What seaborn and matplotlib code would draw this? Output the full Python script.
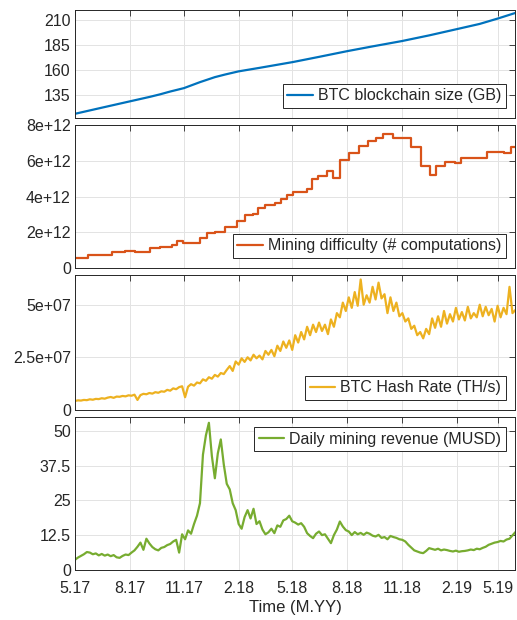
import numpy as np
import pandas as pd
import matplotlib
matplotlib.use("Agg")
import matplotlib.pyplot as plt
import seaborn as sns

# x axis: days since 1 May 2017
tick_days = [0, 92, 184, 276, 365, 457, 549, 641, 711]
tick_labels = ['5.17', '8.17', '11.17', '2.18', '5.18', '8.18', '11.18', '2.19', '5.19']
x_end = 740

# --- BTC blockchain size (GB) ---
size_days = [0, 42, 91, 126, 143, 160, 183, 210, 235, 252, 275, 310, 366, 410,
             458, 500, 549, 595, 641, 680, 711, 740]
size_gb = [116, 121.7, 128.3, 133, 135.5, 138.3, 141.7, 147.7, 152.7, 155.3, 158.5,
           162, 167.8, 173, 178.8, 183.5, 188.8, 194.5, 200.7, 206, 211.5, 217]

# --- Mining difficulty (x 1e12), value holds from the given day on ---
diff_days = [0, 22, 42, 62, 84, 101, 126, 143, 163, 171, 181, 210, 221, 235, 252,
             272, 285, 299, 307, 320, 336, 346, 356, 366, 389, 398, 408, 424, 433,
             446, 461, 477, 492, 505, 518, 534, 564, 581, 596, 607, 621, 638, 649,
             693, 721, 732]
diff_vals = [0.58, 0.70, 0.72, 0.87, 0.95, 0.91, 1.12, 1.18, 1.26, 1.48, 1.38, 1.66,
             1.93, 2.0, 2.3, 2.65, 2.95, 3.03, 3.35, 3.5, 3.64, 3.88, 4.1, 4.28, 4.42,
             5.0, 5.15, 5.45, 5.05, 6.05, 6.45, 6.82, 7.12, 7.28, 7.5, 7.3, 6.78, 5.72,
             5.2, 5.72, 5.96, 5.88, 6.18, 6.48, 6.44, 6.8]

# --- BTC hash rate (x 1e7 TH/s), one value every 5 days ---
hash_vals = [
    0.42, 0.45, 0.44, 0.47, 0.46, 0.50, 0.48, 0.52, 0.51, 0.55,
    0.53, 0.58, 0.61, 0.57, 0.63, 0.62, 0.66, 0.64, 0.69, 0.67,
    0.72, 0.47, 0.70, 0.76, 0.74, 0.80, 0.77, 0.84, 0.81, 0.88,
    0.86, 0.95, 0.91, 1.02, 0.98, 1.08, 1.12, 0.60, 1.10, 1.22,
    1.15, 1.30, 1.26, 1.45, 1.38, 1.55, 1.48, 1.66, 1.58, 1.75,
    1.70, 1.90, 2.08, 1.85, 2.30, 2.15, 2.45, 2.28, 2.50, 2.35,
    2.62, 2.45, 2.58, 2.40, 2.80, 2.62, 2.85, 2.55, 3.05, 2.80,
    3.25, 2.95, 3.30, 2.85, 3.55, 3.20, 3.70, 3.35, 3.95, 3.55,
    4.05, 3.70, 4.15, 3.75, 4.05, 3.60, 4.30, 3.95, 4.60, 4.40,
    5.10, 4.70, 5.35, 4.85, 5.60, 4.95, 6.20, 5.00, 5.45, 5.10,
    5.85, 5.25, 6.05, 5.30, 5.50, 4.60, 5.35, 4.70, 5.10, 4.45,
    4.60, 4.20, 4.35, 3.85, 4.00, 3.55, 3.70, 3.40, 3.85, 3.60,
    4.35, 3.90, 4.45, 3.95, 4.70, 4.10, 4.55, 4.20, 4.85, 4.30,
    4.65, 4.25, 4.90, 4.35, 4.60, 4.40, 5.00, 4.45, 4.90, 4.50,
    4.80, 4.20, 4.95, 4.40, 4.85, 4.55, 5.85, 4.60, 4.75]

# --- Daily mining revenue (MUSD), one value every 5 days ---
rev_vals = [
    3.6, 4.4, 5.0, 5.6, 6.4, 6.2, 5.6, 5.9, 5.2, 5.7,
    5.1, 5.5, 4.9, 5.3, 4.5, 4.3, 5.0, 5.5, 5.3, 6.2,
    7.0, 8.3, 9.8, 7.2, 11.2, 9.5, 8.2, 7.4, 7.0, 7.9,
    8.2, 8.9, 9.3, 10.2, 10.8, 6.2, 12.8, 11.0, 14.2, 13.0,
    16.5, 19.5, 24.0, 41.5, 48.5, 53.0, 41.0, 33.0, 42.0, 47.0,
    38.0, 31.0, 29.0, 24.0, 21.5, 16.5, 14.8, 19.0, 21.5, 18.5,
    22.0, 16.5, 17.5, 14.5, 12.8, 13.5, 14.8, 13.2, 16.0, 15.5,
    17.8, 18.3, 19.5, 17.5, 17.0, 16.3, 16.8, 15.5, 13.2, 12.2,
    11.4, 13.0, 13.8, 12.5, 12.8, 11.2, 9.6, 12.5, 14.5, 17.4,
    15.6, 14.3, 13.8, 12.5, 13.6, 12.8, 13.3, 12.6, 13.4, 13.0,
    12.3, 12.0, 12.6, 11.5, 11.8, 11.0, 12.2, 11.8, 11.5, 11.0,
    10.8, 10.2, 9.0, 8.0, 7.0, 6.6, 6.2, 6.0, 6.8, 7.8,
    7.5, 7.2, 7.6, 7.0, 7.3, 7.1, 6.8, 6.6, 6.9, 6.5,
    6.7, 6.8, 7.0, 7.3, 7.1, 7.6, 7.4, 7.9, 8.3, 9.0,
    9.4, 9.8, 10.0, 10.4, 10.2, 10.9, 11.2, 12.4, 13.6]

sample_days = np.arange(len(hash_vals)) * 5

size_df = pd.DataFrame({'day': size_days, 'value': size_gb})
diff_df = pd.DataFrame({'day': diff_days + [x_end],
                        'value': [v * 1e12 for v in diff_vals + diff_vals[-1:]]})
hash_df = pd.DataFrame({'day': sample_days, 'value': [v * 1e7 for v in hash_vals]})
rev_df = pd.DataFrame({'day': np.arange(len(rev_vals)) * 5, 'value': rev_vals})

sns.set_theme(style="white")
plt.rcParams['font.family'] = ['Liberation Sans', 'DejaVu Sans']

fig = plt.figure(figsize=(5.17, 6.2), dpi=100)
left, width = 0.145, 0.852
boxes = [(0.810, 0.984), (0.568, 0.798), (0.339, 0.556), (0.081, 0.327)]
axes = [fig.add_axes([left, b, width, t - b]) for b, t in boxes]

panels = [
    (size_df, '#0072BD', 'BTC blockchain size (GB)', (112, 220),
     [135, 160, 185, 210], ['135', '160', '185', '210'], 'lower right', None),
    (diff_df, '#D95319', 'Mining difficulty (# computations)', (0, 8e12),
     [0, 2e12, 4e12, 6e12, 8e12], ['0', '2e+12', '4e+12', '6e+12', '8e+12'], 'lower right', 'steps-post'),
    (hash_df, '#EDB120', 'BTC Hash Rate (TH/s)', (0, 6.4e7),
     [0, 2.5e7, 5e7], ['0', '2.5e+07', '5e+07'], 'lower right', None),
    (rev_df, '#77AC30', 'Daily mining revenue (MUSD)', (0, 55),
     [0, 12.5, 25, 37.5, 50], ['0', '12.5', '25', '37.5', '50'], 'upper right', None),
]

for ax, (df, color, label, ylim, yt, ytl, loc, ds) in zip(axes, panels):
    kw = {'drawstyle': ds} if ds else {}
    sns.lineplot(data=df, x='day', y='value', ax=ax, color=color, linewidth=1.6,
                 label=label, estimator=None, **kw)
    ax.set_xlim(0, x_end)
    ax.set_ylim(*ylim)
    ax.set_yticks(yt)
    ax.set_yticklabels(ytl)
    ax.set_xticks(tick_days)
    ax.set_ylabel('')
    ax.set_xlabel('')
    ax.grid(True, color='#e3e3e3', linewidth=0.7)
    ax.set_axisbelow(True)
    ax.tick_params(direction='in', top=True, right=True, length=4, width=0.6,
                   labelsize=11.5, colors='#262626', pad=3)
    for s in ax.spines.values():
        s.set_visible(True)
        s.set_color('#262626')
        s.set_linewidth(0.7)
    leg = ax.legend(loc=loc, fontsize=11.5, frameon=True, fancybox=False,
                    handlelength=1.6, handletextpad=0.3, borderpad=0.3,
                    borderaxespad=0.6)
    leg.get_frame().set_edgecolor('#262626')
    leg.get_frame().set_linewidth(0.7)
    leg.get_frame().set_alpha(1)

for ax in axes[:-1]:
    ax.set_xticklabels([])
axes[-1].set_xticklabels(tick_labels)
axes[-1].tick_params(axis='x', pad=8)
axes[-1].set_xlabel('Time (M.YY)', fontsize=12, color='#262626', labelpad=3)

fig.savefig('out.png', dpi=100)
